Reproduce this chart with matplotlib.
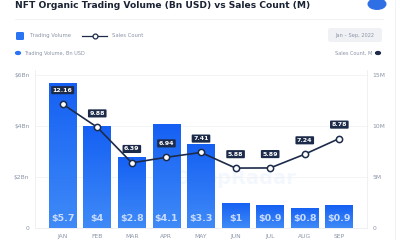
import numpy as np
import matplotlib
matplotlib.use("Agg")
import matplotlib.pyplot as plt
from matplotlib.patches import FancyBboxPatch, Circle
from matplotlib.lines import Line2D

# ---- data
months = ["JAN", "FEB", "MAR", "APR", "MAY", "JUN", "JUL", "AUG", "SEP"]
volume = [5.7, 4.0, 2.8, 4.1, 3.3, 1.0, 0.9, 0.8, 0.9]
volume_labels = ["$5.7", "$4", "$2.8", "$4.1", "$3.3", "$1", "$0.9", "$0.8", "$0.9"]
sales = [12.16, 9.88, 6.39, 6.94, 7.41, 5.88, 5.89, 7.24, 8.78]
left_ticks = [0, 2, 4, 6]
left_ticklabels = ["0", "$2Bn", "$4Bn", "$6Bn"]
right_ticks = [0, 5, 10, 15]
right_ticklabels = ["0", "5M", "10M", "15M"]

NAVY = "#1d2b4a"
GRAY = "#8a94a6"
BLUE = "#1f6bf2"

plt.rcParams['font.family'] = ['DejaVu Sans']
fig = plt.figure(figsize=(4, 2.4), dpi=100)
fig.patch.set_facecolor("white")

ax = fig.add_axes([35/400, 1-228/240, 332/400, 158/240])
x = np.arange(len(months))
bars = ax.bar(x, volume, width=0.8, color=BLUE, zorder=2)

# vertical gradient inside each bar
grad = np.linspace(0, 1, 100).reshape(-1, 1)
cmap = matplotlib.colors.LinearSegmentedColormap.from_list("g", ["#1560f3", "#3f8af7"])
for b in bars:
    im = ax.imshow(grad, cmap=cmap, aspect="auto", zorder=2.1,
                   extent=[b.get_x(), b.get_x() + b.get_width(), 0, b.get_height()])
    im.set_clip_path(b)

for xi, lab in zip(x, volume_labels):
    ax.text(xi, 0.38, lab, ha="center", va="center", color="#c9dbff",
            fontsize=6.8, fontweight="bold", zorder=3)

ax.set_xlim(-0.8, 8.8)
ax.set_ylim(0, 6.2)
ax.set_yticks(left_ticks)
ax.set_yticklabels(left_ticklabels)
ax.set_xticks(x)
ax.set_xticklabels(months)
ax.tick_params(axis="both", length=0, labelsize=4.3, colors=GRAY, pad=4)
ax.grid(axis="y", color="#f1f2f5", linewidth=0.6, zorder=0)
ax.spines["top"].set_visible(False)
for s in ["left", "right", "bottom"]:
    ax.spines[s].set_color("#eceef2")
    ax.spines[s].set_linewidth(0.6)

# faint watermark
ax.text(5.0, 1.95, "DappRadar", ha="center", va="center", fontsize=14,
        fontweight="bold", color="#1f6bf2", alpha=0.05, zorder=1)

ax2 = ax.twinx()
ax2.set_ylim(0, 15.5)
ax2.set_yticks(right_ticks)
ax2.set_yticklabels(right_ticklabels)
ax2.tick_params(axis="y", length=0, labelsize=4.3, colors=GRAY, pad=4)
for s in ax2.spines.values():
    s.set_visible(False)
ax2.plot(x, sales, color=NAVY, linewidth=1.2, marker="o", markersize=4.5,
         markerfacecolor="white", markeredgecolor=NAVY, markeredgewidth=1.1, zorder=4)
for xi, v in zip(x, sales):
    ax2.annotate(f"{v:.2f}", (xi, v), xytext=(0, 10), textcoords="offset points",
                 ha="center", va="center", fontsize=4.5, fontweight="bold", color="white",
                 bbox=dict(boxstyle="round,pad=0.25,rounding_size=0.15", fc=NAVY, ec="none"),
                 zorder=5)

# ---- header
fig.text(15/400, 1-5/240, "NFT Organic Trading Volume (Bn USD) vs Sales Count (M)",
         ha="left", va="center", fontsize=6.6, fontweight="bold", color="#1a2233")
fig.add_artist(Line2D([15/400, 383/400], [1-19/240, 1-19/240], color="#eef0f3", lw=0.6))
fig.add_artist(Circle((377/400, 1-4/240), 0.022, transform=fig.transFigure,
                      color="#2f6fe6", zorder=3))
fig.add_artist(Line2D([395/400, 395/400], [0, 1], color="#eef0f3", lw=0.6))

# legend row
fig.add_artist(FancyBboxPatch((16/400, 1-40/240), 8/400, 8/240,
                              boxstyle="round,pad=0,rounding_size=0.004",
                              transform=fig.transFigure, fc="#2a74f4", ec="none"))
fig.text(30/400, 1-35.5/240, "Trading Volume", fontsize=3.8, color=GRAY, va="center")
fig.add_artist(Line2D([82/400, 107/400], [1-35.5/240] * 2, color=NAVY, lw=0.9))
fig.add_artist(Line2D([94.5/400], [1-35.5/240], marker="o", markersize=3.5,
                      markerfacecolor="white", markeredgecolor=NAVY, markeredgewidth=0.9))
fig.text(112/400, 1-35.5/240, "Sales Count", fontsize=3.8, color=GRAY, va="center")

fig.add_artist(FancyBboxPatch((328/400, 1-42/240), 54/400, 14/240,
                              boxstyle="round,pad=0,rounding_size=0.008",
                              transform=fig.transFigure, fc="#f0f1f4", ec="none"))
fig.text(355/400, 1-35.5/240, "Jan – Sep, 2022", fontsize=3.6, color=GRAY,
         ha="center", va="center")

fig.add_artist(Circle((18/400, 1-53/240), 0.006, transform=fig.transFigure, color="#2a74f4"))
fig.text(24/400, 1-53/240, "Trading Volume, Bn USD", fontsize=3.6, color=GRAY, va="center")
fig.add_artist(Circle((378/400, 1-53/240), 0.006, transform=fig.transFigure, color=NAVY))
fig.text(372/400, 1-53/240, "Sales Count, M", fontsize=3.6, color=GRAY,
         va="center", ha="right")

fig.savefig("out.png", dpi=100)
